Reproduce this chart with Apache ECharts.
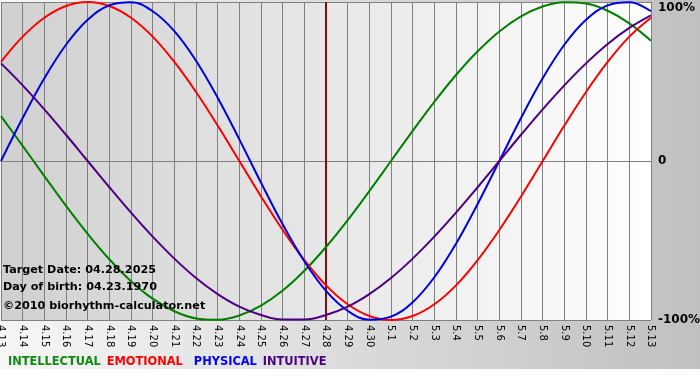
<!DOCTYPE html>
<html><head><meta charset="utf-8">
<script src="https://cdn.jsdelivr.net/npm/echarts@6/dist/echarts.min.js"></script>
<style>html,body{margin:0;padding:0;background:#fff}#c{width:700px;height:380px}</style>
</head><body><div id="c"></div>
<script>
const days = ['4.13','4.14','4.15','4.16','4.17','4.18','4.19','4.20','4.21','4.22','4.23','4.24','4.25','4.26','4.27','4.28','4.29','4.30','5.1','5.2','5.3','5.4','5.5','5.6','5.7','5.8','5.9','5.10','5.11','5.12','5.13'];
const intellectual = [28.2,9.5,-9.5,-28.2,-45.8,-61.8,-75.6,-86.6,-94.5,-99.0,-99.9,-97.2,-91.0,-81.5,-69.0,-54.1,-37.2,-18.9,0,18.9,37.2,54.1,69.0,81.5,91.0,97.2,99.9,99.0,94.5,86.6,75.6];
const emotional = [62.3,78.2,90.1,97.5,100,97.5,90.1,78.2,62.3,43.4,22.3,0,-22.3,-43.4,-62.3,-78.2,-90.1,-97.5,-100,-97.5,-90.1,-78.2,-62.3,-43.4,-22.3,0,22.3,43.4,62.3,78.2,90.1];
const physical = [0,27.0,52.0,73.1,88.8,97.9,99.8,94.2,81.7,63.1,39.8,13.6,-13.6,-39.8,-63.1,-81.7,-94.2,-99.8,-97.9,-88.8,-73.1,-52.0,-27.0,0,27.0,52.0,73.1,88.8,97.9,99.8,94.2];
const intuitive = [61.4,47.6,32.5,16.5,0,-16.5,-32.5,-47.6,-61.4,-73.6,-83.7,-91.6,-96.9,-99.7,-99.7,-96.9,-91.6,-83.7,-73.6,-61.4,-47.6,-32.5,-16.5,0,16.5,32.5,47.6,61.4,73.6,83.7,91.6];
const yTicks = {'100':'100%','0':'0','-100':'-100%'};
const targetDay = '4.28';
const infoLines = ['Target Date: 04.28.2025','Day of birth: 04.23.1970','\u00A92010 biorhythm-calculator.net'];
const seriesNames = ['INTELLECTUAL','EMOTIONAL','PHYSICAL','INTUITIVE'];
const colors = ['#008000','#ff0000','#0000e0','#4b0082'];
const legendColors = ['#108a10','#ff0000','#0000ff','#4b0082'];

const chart = echarts.init(document.getElementById('c'), null, {renderer:'canvas'});
const G = echarts.graphic.LinearGradient;
const font = 'DejaVu Sans, Verdana, sans-serif';
const dataSets = [intellectual, emotional, physical, intuitive];
const series = seriesNames.map((n,i)=>({
  name:n, type:'line', data:dataSets[i], smooth:0.4, symbol:'none',
  lineStyle:{color:colors[i], width:2}, itemStyle:{color:colors[i]}, z:3+i,
  markLine: i===0 ? {symbol:'none', silent:true, label:{show:false},
    lineStyle:{color:'#7a1010', width:2, type:'solid'}, data:[{xAxis:targetDay}], z:1} : undefined
}));
chart.setOption({
  animation:false,
  backgroundColor:'transparent',
  graphic:[
    {type:'rect', z:-10, shape:{x:0,y:0,width:700,height:369}, style:{fill:new G(0,0,1,0,[{offset:0,color:'#f6f6f6'},{offset:1,color:'#c0c0c0'}])}},
    ...infoLines.map((t,i)=>({type:'text', z:20, left:3, top:[265,282,301][i], style:{text:t, font:'bold 11.2px '+font, fill:'#000'}}))
  ],
  grid:{left:1, right:49, top:2, bottom:60, show:true, borderWidth:0, containLabel:false, outerBoundsMode:'none',
    backgroundColor:new G(0,0,1,0,[{offset:0,color:'#d0d0d0'},{offset:1,color:'#ffffff'}])},
  legend:{left:3, top:355, padding:0, icon:'none', itemWidth:0, itemGap:1, selectedMode:false,
    data:seriesNames.map((n,i)=>({name:n, textStyle:{color:legendColors[i], padding: i===2 ? [0,0,0,5] : 0}})),
    textStyle:{fontFamily:font, fontWeight:'bold', fontSize:11.4, padding:0}},
  xAxis:{type:'category', data:days, boundaryGap:false,
    axisLine:{show:true, lineStyle:{color:'#808080', width:1}},
    axisTick:{show:true, length:4, lineStyle:{color:'#808080'}},
    splitLine:{show:true, lineStyle:{color:'#808080', width:1}},
    axisLabel:{interval:0, rotate:-90, fontSize:10, fontFamily:font, color:'#000', margin:5, hideOverlap:false}},
  yAxis:{type:'value', min:-100, max:100, interval:100, position:'right',
    axisLine:{show:false}, axisTick:{show:false},
    splitLine:{show:true, lineStyle:{color:'#808080', width:1}},
    axisLabel:{formatter:v=>yTicks[String(v)], fontSize:12, fontWeight:'bold', fontFamily:font, color:'#000', margin:7,
      verticalAlignMaxLabel:'top'}},
  series
});
</script></body></html>
